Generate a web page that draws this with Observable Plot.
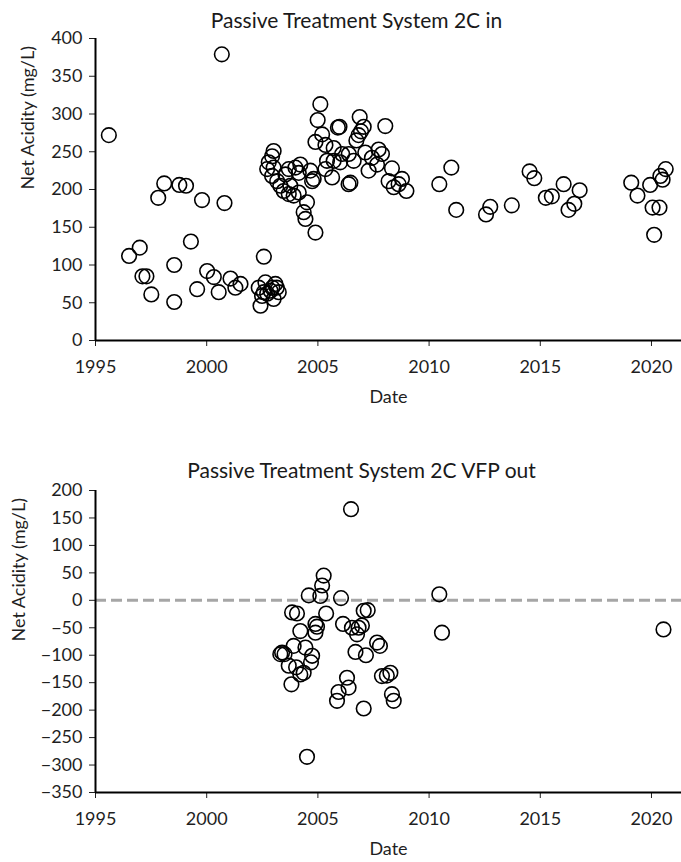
<!DOCTYPE html>
<html>
<head>
<meta charset="utf-8">
<script src="https://cdn.jsdelivr.net/npm/d3@7"></script>
<script src="https://cdn.jsdelivr.net/npm/@observablehq/plot@0.6"></script>
<style>
  html, body { margin: 0; padding: 0; background: white; overflow: hidden; }
  #wrap { position: relative; width: 681px; height: 862px; font-family: Lato, sans-serif; }
  .title { position: absolute; left: 32px; width: 649px; text-align: center; font-size: 21px; color: #1a1a1a; line-height: 24px; }
  .chart { position: absolute; left: 0; }
</style>
</head>
<body>
<div id="wrap">
  <div class="title" style="top:8px">Passive Treatment System 2C in</div>
  <div class="chart" id="c1" style="top:30px"></div>
  <div class="title" style="top:458px; left:42px; width:639px">Passive Treatment System 2C VFP out</div>
  <div class="chart" id="c2" style="top:482px"></div>
</div>
<script>
// Top chart: Passive Treatment System 2C in (decimal year, net acidity mg/L)
const inYear = [
  1995.60, 1996.51, 1996.99, 1997.11, 1997.29, 1997.51, 1997.82, 1998.09, 1998.54, 1998.54,
  1998.77, 1999.07, 1999.29, 1999.57, 1999.79, 2000.02, 2000.32, 2000.54, 2000.68, 2000.80,
  2001.07, 2001.29, 2001.52,
  2002.34, 2002.42, 2002.49, 2002.57, 2002.57, 2002.64, 2002.72, 2002.87, 2002.95, 2003.01,
  2003.09, 2003.15, 2003.24,
  2002.72, 2002.79, 2002.94, 2003.01, 2002.94, 2003.01, 2003.17, 2003.31, 2003.46, 2003.54,
  2003.69, 2003.69, 2003.76, 2003.91, 2003.99, 2004.14, 2004.14, 2004.21, 2004.36, 2004.44,
  2004.51, 2004.66, 2004.74, 2004.81, 2004.89, 2004.89,
  2004.99, 2005.11, 2005.19, 2005.34, 2005.34, 2005.41, 2005.64, 2005.71, 2005.71, 2005.90,
  2005.97, 2006.00, 2006.09, 2006.38, 2006.39, 2006.46, 2006.61, 2006.73, 2006.83, 2006.88,
  2006.94, 2007.06, 2007.13, 2007.28, 2007.43, 2007.66, 2007.73, 2007.88, 2008.03, 2008.18,
  2008.33, 2008.41, 2008.63, 2008.78, 2008.98,
  2010.46, 2011.00, 2011.22, 2012.56, 2012.75, 2013.72, 2014.52, 2014.73, 2015.25, 2015.52,
  2016.05, 2016.27, 2016.53, 2016.77, 2019.09, 2019.37, 2019.94, 2020.05, 2020.12, 2020.36,
  2020.40, 2020.50, 2020.64
];
const inAcidity = [
  272, 112, 123, 85, 85, 61, 189, 208, 100, 51,
  206, 205, 131, 68, 186, 92, 84, 64, 379, 182,
  82, 70, 75,
  70, 46, 59, 111, 64, 77, 62, 66, 70, 55,
  75, 70, 64,
  227, 236, 244, 251, 218, 229, 211, 205, 198, 220,
  194, 227, 205, 192, 229, 196, 222, 233, 170, 161,
  183, 225, 211, 214, 143, 263,
  292, 313, 273, 259, 227, 238, 216, 255, 238, 282,
  283, 236, 247, 207, 247, 209, 238, 265, 272, 296,
  277, 283, 249, 225, 242, 233, 253, 247, 284, 211,
  228, 203, 207, 214, 198,
  207, 229, 173, 167, 177, 179, 224, 215, 189, 191,
  207, 173, 181, 199, 209, 192, 206, 176, 140, 176,
  218, 213, 227
];

// Bottom chart: Passive Treatment System 2C VFP out
const outYear = [
  2003.31, 2003.39, 2003.50, 2003.69, 2003.81, 2003.84, 2003.91, 2004.02, 2004.06, 2004.21,
  2004.21, 2004.36, 2004.44, 2004.51, 2004.59, 2004.69, 2004.74, 2004.89, 2004.89, 2004.96,
  2005.11, 2005.19, 2005.26, 2005.37, 2005.86, 2005.93, 2006.04, 2006.13, 2006.31, 2006.38,
  2006.49, 2006.53, 2006.69, 2006.76, 2006.83, 2006.98, 2007.06, 2007.06, 2007.16, 2007.24,
  2007.66, 2007.79, 2007.88, 2008.10, 2008.26, 2008.33, 2008.41, 2010.46, 2010.58, 2020.54
];
const outAcidity = [
  -98, -95, -98, -119, -153, -22, -83, -122, -24, -56,
  -135, -132, -86, -285, 9, -113, -101, -43, -59, -48,
  8, 27, 45, -24, -183, -167, 4, -43, -141, -159,
  166, -50, -94, -62, -50, -46, -19, -197, -100, -18,
  -77, -83, -138, -137, -132, -171, -183, 11, -59, -53
];

const xTicks = [1995, 2000, 2005, 2010, 2015, 2020];
const yTicksIn = [0, 50, 100, 150, 200, 250, 300, 350, 400];
const yTicksOut = [-350, -300, -250, -200, -150, -100, -50, 0, 50, 100, 150, 200];

function chart({years, values, yDomain, yTicks, labelDx, zeroLine, height, marginBottom}) {
  const data = years.map((x, i) => ({x, y: values[i]}));
  return Plot.plot({
    width: 681, height, marginLeft: 95, marginRight: 0, marginTop: 8, marginBottom,
    style: {fontFamily: "Lato, sans-serif", fontSize: "18px", color: "#1f1f1f", background: "white", overflow: "visible"},
    x: {domain: [1995, 2021.35], ticks: xTicks, tickFormat: d => String(d), tickSize: 6, tickPadding: 14, label: null},
    y: {domain: yDomain, ticks: yTicks, tickSize: 6, tickPadding: 7, label: null},
    marks: [
      zeroLine ? Plot.ruleY([0], {stroke: "#a6a6a6", strokeWidth: 3, strokeDasharray: "11,5"}) : null,
      Plot.ruleX([1995], {stroke: "black", strokeWidth: 2}),
      Plot.ruleY([yDomain[0]], {stroke: "black", strokeWidth: 2}),
      Plot.dot(data, {x: "x", y: "y", r: 7.3, stroke: "black", strokeWidth: 1.6, fill: "none"}),
      Plot.text(["Date"], {frameAnchor: "bottom", dy: 62, fontSize: 18, fill: "#1f1f1f"}),
      Plot.text(["Net Acidity (mg/L)"], {frameAnchor: "left", rotate: -90, dx: -labelDx, fontSize: 18, fill: "#1f1f1f"})
    ]
  });
}

document.getElementById("c1").append(chart({
  years: inYear, values: inAcidity, yDomain: [0, 400], yTicks: yTicksIn,
  labelDx: 67, zeroLine: false, height: 390, marginBottom: 80
}));
document.getElementById("c2").append(chart({
  years: outYear, values: outAcidity, yDomain: [-350, 200], yTicks: yTicksOut,
  labelDx: 76, zeroLine: true, height: 378, marginBottom: 68
}));
</script>
</body>
</html>
